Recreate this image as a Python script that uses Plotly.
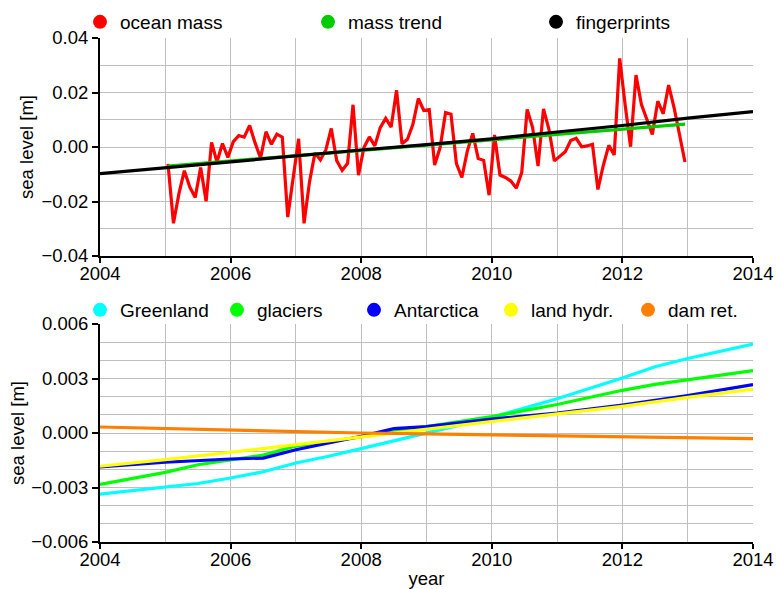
import pandas as pd
import plotly.graph_objects as go

# ---------------- data ----------------
# monthly ocean mass anomaly [m], Jan 2005 .. Dec 2012
ocean_mass = [
    -0.0062, -0.0280, -0.0172, -0.0087, -0.0147, -0.0185, -0.0075, -0.0199, 0.0017, -0.0055, 0.0013, -0.0038,
    0.0020, 0.0042, 0.0036, 0.0079, 0.0015, -0.0041, 0.0056, 0.0010, 0.0047, 0.0036, -0.0257, -0.0110,
    0.0030, -0.0280, -0.0128, -0.0022, -0.0047, -0.0011, 0.0068, -0.0050, -0.0086, -0.0060, 0.0155, -0.0103,
    -0.0002, 0.0037, 0.0004, 0.0071, 0.0105, 0.0073, 0.0208, 0.0012, 0.0028, 0.0083, 0.0178, 0.0134,
    0.0137, -0.0066, -0.0002, 0.0126, 0.0120, -0.0061, -0.0112, -0.0015, 0.0050, -0.0042, -0.0049, -0.0177,
    0.0044, -0.0103, -0.0112, -0.0125, -0.0151, -0.0094, 0.0138, 0.0071, -0.0070, 0.0140, 0.0065, -0.0051,
    -0.0033, -0.0017, 0.0024, 0.0032, 0.0001, 0.0004, 0.0010, -0.0156, -0.0067, 0.0006, -0.0029, 0.0325,
    0.0156, 0.0001, 0.0264, 0.0156, 0.0101, 0.0046, 0.0168, 0.0122, 0.0227, 0.0144, 0.0045, -0.0055,
]
months = pd.period_range("2005-01", periods=len(ocean_mass), freq="M")
t_ocean = [p.year + (p.month - 0.5) / 12 for p in months]

# linear mass trend over the observation period
t_trend = [2005.04, 2007.0, 2009.0, 2011.0, 2012.96]
mass_trend = [-0.0070, -0.0031, 0.0007, 0.0046, 0.0084]

# sum of fingerprint contributions
t_fp = [2004, 2005, 2006, 2007, 2008, 2009, 2010, 2011, 2012, 2013, 2014]
fingerprints = [-0.0098, -0.0076, -0.0053, -0.0031, -0.0011, 0.0009, 0.0030, 0.0055, 0.0079, 0.0106, 0.0130]

# individual contributions [m]
t_greenland = [2004, 2005, 2005.5, 2006, 2006.5, 2007, 2007.5, 2008, 2008.5, 2009, 2010, 2011, 2012, 2012.5, 2013, 2014]
greenland = [-0.00336, -0.00297, -0.00278, -0.00248, -0.00213, -0.00165, -0.00128, -0.00086, -0.00042,
             0.00002, 0.00086, 0.00189, 0.00303, 0.00365, 0.00410, 0.00489]

t_glaciers = [2004, 2005, 2005.5, 2006, 2006.5, 2007, 2008, 2009, 2010, 2011, 2012, 2012.5, 2013, 2014]
glaciers = [-0.00283, -0.00217, -0.00175, -0.00150, -0.00122, -0.00072, -0.00022, 0.00035, 0.00090,
            0.00157, 0.00235, 0.00268, 0.00294, 0.00343]

t_antarctica = [2004, 2005, 2006, 2006.5, 2007, 2007.5, 2008, 2008.5, 2009, 2010, 2011, 2012, 2013, 2014]
antarctica = [-0.00187, -0.00161, -0.00143, -0.00138, -0.00092, -0.00055, -0.00018, 0.00024, 0.00035,
              0.00077, 0.00110, 0.00154, 0.00206, 0.00266]

t_annual = [2004, 2005, 2006, 2007, 2008, 2009, 2010, 2011, 2012, 2013, 2014]
land_hydr = [-0.00183, -0.00147, -0.00106, -0.00064, -0.00022, 0.00020, 0.00064, 0.00106, 0.00147, 0.00196, 0.00242]
dam_ret = [0.00033, 0.00024, 0.00015, 0.00007, 0.00000, -0.00005, -0.00011, -0.00015, -0.00020, -0.00025, -0.00031]

top_names = ["ocean mass", "mass trend", "fingerprints"]
top_colors = ["#ff0000", "#00cc00", "#000000"]
bottom_names = ["Greenland", "glaciers", "Antarctica", "land hydr.", "dam ret."]
bottom_colors = ["#00ffff", "#00ff00", "#0000ff", "#ffff00", "#ff8000"]

# ---------------- figure ----------------
FONT = "Liberation Sans, Arial, Helvetica, sans-serif"
W, H = 776, 589
GRID = "#bfbfbf"

fig = go.Figure()

top_series = [(t_ocean, ocean_mass), (t_trend, mass_trend), (t_fp, fingerprints)]
for (tx, vy), name, col in zip(top_series, top_names, top_colors):
    fig.add_trace(go.Scatter(x=tx, y=vy, mode="lines", name=name, showlegend=False,
                             line=dict(color=col, width=3.2), xaxis="x", yaxis="y"))

bottom_series = [(t_greenland, greenland), (t_glaciers, glaciers), (t_antarctica, antarctica),
                 (t_annual, land_hydr), (t_annual, dam_ret)]
for (tx, vy), name, col in zip(bottom_series, bottom_names, bottom_colors):
    fig.add_trace(go.Scatter(x=tx, y=vy, mode="lines", name=name, showlegend=False,
                             line=dict(color=col, width=3.2), xaxis="x2", yaxis="y2"))

# legend entries drawn as filled circles
for name, col in zip(top_names, top_colors):
    fig.add_trace(go.Scatter(x=[None], y=[None], mode="markers", name=name, legend="legend",
                             marker=dict(color=col, size=14, symbol="circle"), xaxis="x", yaxis="y"))
for name, col in zip(bottom_names, bottom_colors):
    fig.add_trace(go.Scatter(x=[None], y=[None], mode="markers", name=name, legend="legend2",
                             marker=dict(color=col, size=14, symbol="circle"), xaxis="x2", yaxis="y2"))

x_dom = [100 / W, 753 / W]


def xaxis(anchor, title=None):
    d = dict(domain=x_dom, anchor=anchor, range=[2004, 2014], dtick=2, tick0=2004,
             showgrid=True, gridcolor=GRID, gridwidth=1,
             minor=dict(dtick=1, tick0=2004, showgrid=True, gridcolor=GRID, gridwidth=1, ticks=""),
             showline=True, linecolor="black", linewidth=2,
             ticks="outside", ticklen=5, tickwidth=2, tickcolor="black",
             ticklabelstandoff=-5,
             tickfont=dict(size=18.5, color="black", family=FONT),
             zeroline=False, automargin=False)
    if title:
        d["title"] = dict(text=title, font=dict(size=18.5, color="black", family=FONT), standoff=19)
    return d


def yaxis(anchor, dom, rng, major, minor, fmt, standoff):
    return dict(domain=dom, anchor=anchor, range=rng, dtick=major, tick0=0,
                showgrid=True, gridcolor=GRID, gridwidth=1,
                minor=dict(dtick=minor, tick0=0, showgrid=True, gridcolor=GRID, gridwidth=1, ticks=""),
                showline=True, linecolor="black", linewidth=2,
                ticks="outside", ticklen=6, tickwidth=2, tickcolor="black",
                tickformat=fmt, tickfont=dict(size=18.5, color="black", family=FONT),
                title=dict(text="sea level [m]", font=dict(size=18.5, color="black", family=FONT),
                           standoff=standoff),
                zeroline=False, automargin=False)


legend_common = dict(orientation="h", xanchor="left", yanchor="middle",
                     font=dict(size=19, color="black", family=FONT),
                     bgcolor="rgba(0,0,0,0)", itemsizing="trace",
                     entrywidthmode="pixels", itemclick=False, itemdoubleclick=False)

fig.update_layout(
    width=W, height=H,
    margin=dict(l=0, r=0, t=0, b=0, autoexpand=False),
    paper_bgcolor="white", plot_bgcolor="white",
    font=dict(family=FONT, size=18.5, color="black"),
    xaxis=xaxis("y"),
    yaxis=yaxis("x", [1 - 256 / H, 1 - 38 / H], [-0.04, 0.04], 0.02, 0.01, ".2f", 3),
    xaxis2=xaxis("y2", "year"),
    yaxis2=yaxis("x2", [1 - 542 / H, 1 - 324 / H], [-0.006, 0.006], 0.003, 0.001, ".3f", 2),
    legend=dict(x=80 / W, y=1 - 22 / H, entrywidth=183, **legend_common),
    legend2=dict(x=80 / W, y=1 - 310 / H, entrywidth=92, **legend_common),
)

fig.write_html("out.html")
